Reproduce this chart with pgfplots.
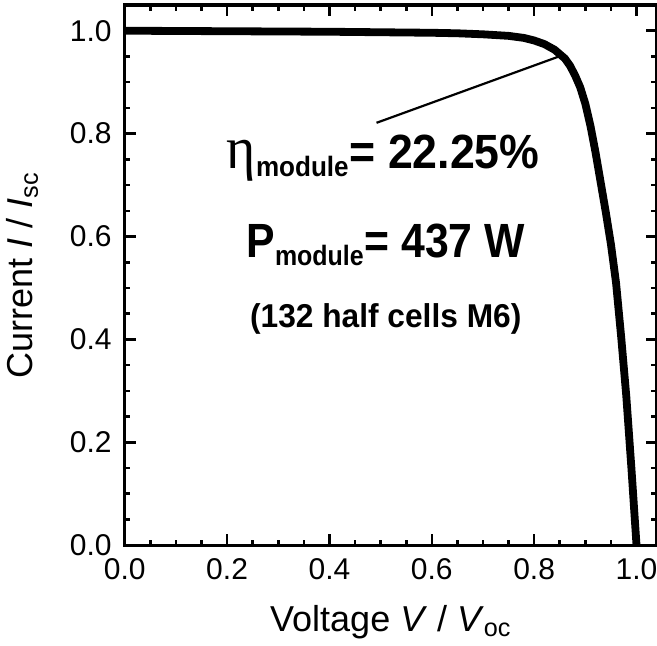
\documentclass[border=0pt]{standalone}
\usepackage{fontspec}
\setmainfont{Liberation Sans}
\newfontfamily\grk{Liberation Serif}
\usepackage{pgfplots}
\pgfplotsset{compat=1.18}

\begin{document}
\begin{tikzpicture}
  \begin{axis}[
      width=266pt, height=270pt, scale only axis,
      xmin=0, xmax=1.04, ymin=0, ymax=1.05,
      xtick={0,0.2,0.4,0.6,0.8,1.0},
      ytick={0,0.2,0.4,0.6,0.8,1.0},
      minor x tick num=3, minor y tick num=3,
      /pgf/number format/fixed,
      /pgf/number format/fixed zerofill,
      /pgf/number format/precision=1,
      /pgf/number format/assume math mode=true,
      tick label style={font=\fontsize{15}{17}\selectfont},
      xticklabel style={yshift=-3pt},
      yticklabel style={xshift=-3pt},
      label style={font=\fontsize{18}{20}\selectfont},
      xlabel={Voltage \textit{V} / \textit{V}\textsubscript{oc}},
      ylabel={Current \textit{I} / \textit{I}\textsubscript{sc}},
      xlabel style={yshift=-6pt},
      ylabel style={yshift=9pt},
      axis line style={line width=1.6pt},
      major tick length=5.5pt, minor tick length=2.8pt,
      every tick/.style={black, line width=1.3pt},
      tick align=inside,
      clip=false,
    ]
    \addplot[black, line width=3.9pt, line join=round] coordinates {
      (0,1.000) (0.1,0.9995) (0.2,0.999) (0.3,0.9985) (0.4,0.998)
      (0.5,0.997) (0.6,0.996) (0.65,0.995) (0.7,0.993) (0.75,0.990)
      (0.78,0.986) (0.80,0.981) (0.82,0.974) (0.84,0.963) (0.86,0.946)
      (0.87,0.932) (0.88,0.913) (0.89,0.890) (0.90,0.858) (0.91,0.815)
      (0.92,0.763) (0.93,0.705) (0.94,0.647) (0.95,0.585) (0.96,0.510)
      (0.97,0.405) (0.98,0.290) (0.99,0.150) (1.00,0.000)
    };
    \addplot[black, line width=1.1pt] coordinates {(0.492,0.821) (0.846,0.949)};
    \node at (axis cs:0.505,0.752) {\scalebox{0.93}[1]{%
      {\grk\fontsize{30}{32}\selectfont η}\fontsize{24}{26}\selectfont\bfseries
      \textsubscript{\fontsize{14}{16}\selectfont module}= 22.25\%}};
    \node at (axis cs:0.51,0.584) {\scalebox{0.89}[1]{%
      \fontsize{24}{26}\selectfont\bfseries P\textsubscript{\fontsize{14}{16}\selectfont module}= 437 W}};
    \node at (axis cs:0.51,0.440) {\scalebox{0.96}[1]{%
      \fontsize{16.5}{18}\selectfont\bfseries (132 half cells M6)}};
  \end{axis}
  \pgfresetboundingbox
  \path[use as bounding box] (current axis.outer west |- current axis.outer south)
    rectangle ([yshift=2.5pt]current axis.north east);
\end{tikzpicture}
\end{document}
